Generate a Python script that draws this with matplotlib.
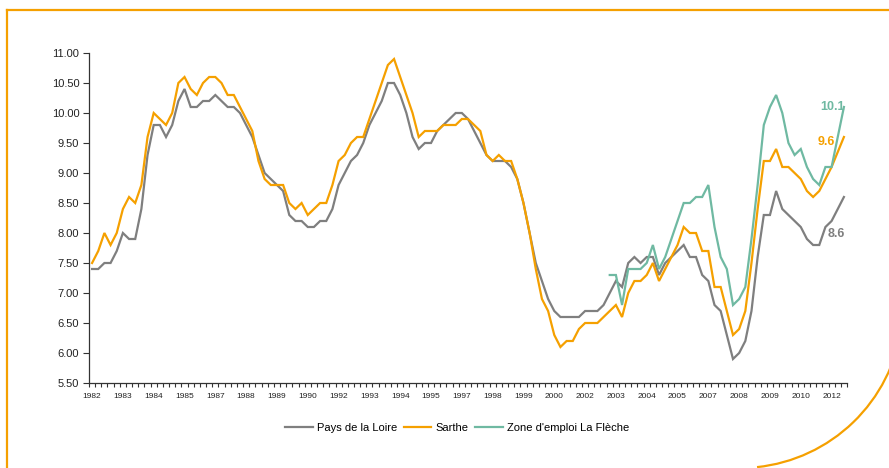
import matplotlib
matplotlib.use("Agg")
import matplotlib.pyplot as plt
from matplotlib.patches import Arc
from matplotlib.lines import Line2D
from matplotlib.transforms import IdentityTransform
import numpy as np

plt.rcParams['font.family'] = ['Liberation Sans', 'DejaVu Sans']

# Quarterly unemployment rate, 1982Q1 .. 2012Q3
start_year = 1982
pays_de_la_loire = [
    7.4, 7.4, 7.5, 7.5, 7.7, 8.0, 7.9, 7.9, 8.4, 9.3,
    9.8, 9.8, 9.6, 9.8, 10.2, 10.4, 10.1, 10.1, 10.2, 10.2,
    10.3, 10.2, 10.1, 10.1, 10.0, 9.8, 9.6, 9.3, 9.0, 8.9,
    8.8, 8.7, 8.3, 8.2, 8.2, 8.1, 8.1, 8.2, 8.2, 8.4,
    8.8, 9.0, 9.2, 9.3, 9.5, 9.8, 10.0, 10.2, 10.5, 10.5,
    10.3, 10.0, 9.6, 9.4, 9.5, 9.5, 9.7, 9.8, 9.9, 10.0,
    10.0, 9.9, 9.7, 9.5, 9.3, 9.2, 9.2, 9.2, 9.1, 8.9,
    8.5, 8.0, 7.5, 7.2, 6.9, 6.7, 6.6, 6.6, 6.6, 6.6,
    6.7, 6.7, 6.7, 6.8, 7.0, 7.2, 7.1, 7.5, 7.6, 7.5,
    7.6, 7.6, 7.3, 7.5, 7.6, 7.7, 7.8, 7.6, 7.6, 7.3,
    7.2, 6.8, 6.7, 6.3, 5.9, 6.0, 6.2, 6.7, 7.6, 8.3,
    8.3, 8.7, 8.4, 8.3, 8.2, 8.1, 7.9, 7.8, 7.8, 8.1,
    8.2, 8.4, 8.6,
]
sarthe = [
    7.5, 7.7, 8.0, 7.8, 8.0, 8.4, 8.6, 8.5, 8.8, 9.6,
    10.0, 9.9, 9.8, 10.0, 10.5, 10.6, 10.4, 10.3, 10.5, 10.6,
    10.6, 10.5, 10.3, 10.3, 10.1, 9.9, 9.7, 9.2, 8.9, 8.8,
    8.8, 8.8, 8.5, 8.4, 8.5, 8.3, 8.4, 8.5, 8.5, 8.8,
    9.2, 9.3, 9.5, 9.6, 9.6, 9.9, 10.2, 10.5, 10.8, 10.9,
    10.6, 10.3, 10.0, 9.6, 9.7, 9.7, 9.7, 9.8, 9.8, 9.8,
    9.9, 9.9, 9.8, 9.7, 9.3, 9.2, 9.3, 9.2, 9.2, 8.9,
    8.5, 8.0, 7.4, 6.9, 6.7, 6.3, 6.1, 6.2, 6.2, 6.4,
    6.5, 6.5, 6.5, 6.6, 6.7, 6.8, 6.6, 7.0, 7.2, 7.2,
    7.3, 7.5, 7.2, 7.4, 7.6, 7.8, 8.1, 8.0, 8.0, 7.7,
    7.7, 7.1, 7.1, 6.7, 6.3, 6.4, 6.7, 7.5, 8.4, 9.2,
    9.2, 9.4, 9.1, 9.1, 9.0, 8.9, 8.7, 8.6, 8.7, 8.9,
    9.1, 9.35, 9.6,
]
# Zone d'emploi La Flèche starts in 2003Q1 (index 84)
la_fleche_start = 84
la_fleche = [
    7.3, 7.3, 6.8, 7.4, 7.4, 7.4, 7.5, 7.8, 7.4, 7.6,
    7.9, 8.2, 8.5, 8.5, 8.6, 8.6, 8.8, 8.1, 7.6, 7.4,
    6.8, 6.9, 7.1, 7.9, 8.8, 9.8, 10.1, 10.3, 10.0, 9.5,
    9.3, 9.4, 9.1, 8.9, 8.8, 9.1, 9.1, 9.6, 10.1,
]
series_names = ["Pays de la Loire", "Sarthe", "Zone d'emploi La Flèche"]
end_labels = ["8.6", "9.6", "10.1"]
y_ticks = [5.5, 6.0, 6.5, 7.0, 7.5, 8.0, 8.5, 9.0, 9.5, 10.0, 10.5, 11.0]
label_step = 5  # one label every 5 quarters

GREY = "#7f7f7f"
ORANGE = "#f5a000"
TEAL = "#6fb9a2"
FRAME = "#f5a000"

n = len(pays_de_la_loire)
x = np.arange(n)
x_fl = np.arange(la_fleche_start, la_fleche_start + len(la_fleche))

fig = plt.figure(figsize=(8.89, 4.68), dpi=100)
ax = fig.add_axes([89/889, 1-383/468, (847-89)/889, (383-53)/468])

lw = 1.6
ax.plot(x, pays_de_la_loire, color=GREY, lw=lw, label=series_names[0], solid_joinstyle='miter')
ax.plot(x, sarthe, color=ORANGE, lw=lw, label=series_names[1], solid_joinstyle='miter')
ax.plot(x_fl, la_fleche, color=TEAL, lw=lw, label=series_names[2], solid_joinstyle='miter')

ax.set_xlim(-0.5, n - 0.5)
ax.set_ylim(5.5, 11.0)
ax.set_yticks(y_ticks)
ax.set_yticklabels([f"{v:.2f}" for v in y_ticks], fontsize=8, color="#222222")
ax.tick_params(axis='y', length=4, width=0.8, color="#333333", pad=3)

lab_idx = list(range(0, n, label_step))
ax.set_xticks(lab_idx)
ax.set_xticklabels([str(int(start_year + i / 4)) for i in lab_idx], fontsize=6, color="#222222")
ax.set_xticks(np.arange(-0.5, n, 1.0), minor=True)
ax.tick_params(axis='x', which='major', length=0, pad=7)
ax.tick_params(axis='x', which='minor', length=3, width=0.8, color="#333333", direction='out')

for s in ['top', 'right']:
    ax.spines[s].set_visible(False)
for s in ['left', 'bottom']:
    ax.spines[s].set_color("#333333")
    ax.spines[s].set_linewidth(0.9)

# end-of-line value labels
ax.text(n - 0.8, la_fleche[-1], end_labels[2], color=TEAL, fontsize=9, fontweight='bold',
        ha='right', va='center')
ax.text(n - 2.4, sarthe[-1] - 0.08, end_labels[1], color=ORANGE, fontsize=9, fontweight='bold',
        ha='right', va='center')
ax.text(n - 0.9, pays_de_la_loire[-1] - 0.62, end_labels[0], color=GREY, fontsize=9, fontweight='bold',
        ha='right', va='center')

handles = [Line2D([], [], color=c, lw=lw) for c in (GREY, ORANGE, TEAL)]
fig.legend(handles, series_names, loc='center', bbox_to_anchor=(457/889, 1-428/468), ncol=3,
           frameon=False, fontsize=8, handlelength=2.5, handletextpad=0.35, columnspacing=0.6)

# decorative frame
fig.add_artist(Line2D([7/889, 7/889], [0, 1-10/468], transform=fig.transFigure, color=FRAME, lw=1.6))
fig.add_artist(Line2D([7/889, 1], [1-10/468, 1-10/468], transform=fig.transFigure, color=FRAME, lw=1.6))
arc = Arc((740, 468-305), 326, 326, theta1=-84, theta2=-8, transform=IdentityTransform(),
          color=FRAME, lw=1.6)
fig.add_artist(arc)

fig.savefig("out.png", dpi=100)
